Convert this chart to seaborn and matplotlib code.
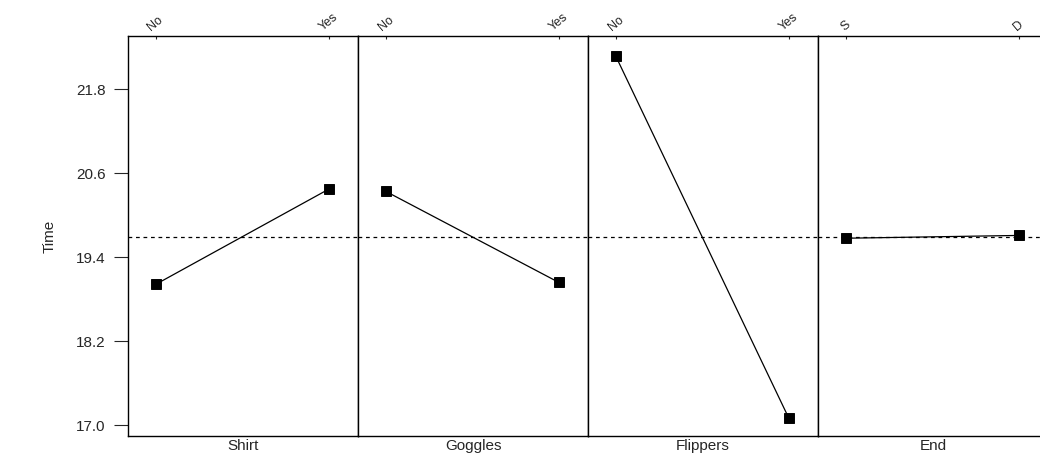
import seaborn as sns
import matplotlib.pyplot as plt
import pandas as pd

# Main effects for Time
factors = ['Shirt', 'Goggles', 'Flippers', 'End']
levels = [['No', 'Yes'], ['No', 'Yes'], ['No', 'Yes'], ['S', 'D']]
means = [[19.01, 20.37], [20.34, 19.04], [22.27, 17.10], [19.67, 19.71]]
grand_mean = 19.69
yticks = [17.0, 18.2, 19.4, 20.6, 21.8]

sns.set_style('white')
plt.rcParams['font.family'] = ['Liberation Sans', 'DejaVu Sans']

fig, axes = plt.subplots(1, 4, sharey=True, figsize=(10.4, 4.63), dpi=100)
# last panel runs slightly past the right edge of the image, as in the original
fig.subplots_adjust(left=0.123, right=1.008, top=0.922, bottom=0.058, wspace=0)

for ax, name, lv, m in zip(axes, factors, levels, means):
    df = pd.DataFrame({'level': lv, 'Time': m})
    sns.pointplot(data=df, x='level', y='Time', order=lv, color='black',
                  markers='s', markersize=6.5, linewidth=0.9, ax=ax)
    ax.axhline(grand_mean, color='black', lw=0.9, ls=(0, (3, 3)))
    ax.set_xlim(-0.16, 1.17)
    ax.xaxis.tick_top()
    ax.xaxis.set_label_position('bottom')
    ax.set_xticks([0, 1])
    ax.set_xticklabels(lv, rotation=40, fontsize=9)
    ax.tick_params(axis='x', direction='in', length=2, width=0.8, pad=2)
    ax.set_xlabel(name, fontsize=11, labelpad=2)
    ax.set_ylabel('')
    for s in ax.spines.values():
        s.set_color('black')
        s.set_linewidth(1.0)

axes[0].set_ylim(16.843, 22.557)
axes[0].set_yticks(yticks)
axes[0].set_yticklabels([f'{v:.1f}' for v in yticks], fontsize=11)
axes[0].tick_params(axis='y', direction='out', length=10, width=0.8, pad=6, left=True)
axes[0].set_ylabel('Time', fontsize=11, labelpad=14)
for ax in axes[1:]:
    ax.tick_params(axis='y', left=False)

plt.savefig('out.png', dpi=100)
